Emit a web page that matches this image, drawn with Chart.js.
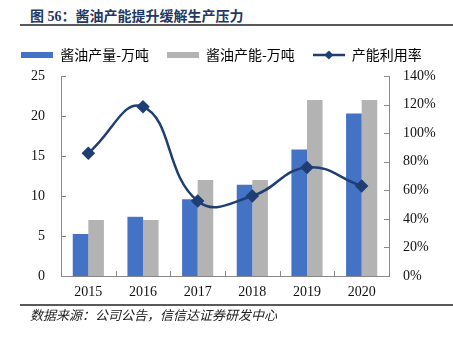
<!DOCTYPE html>
<html>
<head>
<meta charset="utf-8">
<script src="https://cdn.jsdelivr.net/npm/chart.js@4"></script>
<style>
  html, body { margin: 0; padding: 0; background: #fff; }
  #wrap { position: relative; width: 453px; height: 339px; overflow: hidden; }
  #titulo { position: absolute; left: 30px; top: 5px; font: bold 14px "Liberation Serif", "Noto Sans CJK SC"; color: #1F3864; white-space: nowrap; }
  #linea1 { position: absolute; left: 20px; top: 24px; width: 433px; height: 2px; background: #595959; }
  #linea2 { position: absolute; left: 20px; top: 304px; width: 433px; height: 2px; background: #595959; }
  #fuente { position: absolute; left: 30px; top: 305px; font: italic 13px "Noto Sans CJK SC"; color: #222; white-space: nowrap; }
  canvas { position: absolute; left: 0; top: 0; }
</style>
</head>
<body>
<div id="wrap">
  <div id="titulo">图 56：酱油产能提升缓解生产压力</div>
  <div id="linea1"></div>
  <canvas id="grafico" width="453" height="339"></canvas>
  <div id="linea2"></div>
  <div id="fuente">数据来源：公司公告，信信达证券研发中心</div>
</div>
<script>
// Datos
const anios = ["2015", "2016", "2017", "2018", "2019", "2020"];
const produccion = [5.25, 7.4, 9.6, 11.4, 15.8, 20.3];
const capacidad = [7.0, 7.0, 12.0, 12.0, 22.0, 22.0];
const utilizacion = [86, 118.5, 52.5, 56, 76, 63];
const nombres = ["酱油产量-万吨", "酱油产能-万吨", "产能利用率"];

const AZUL = "#4472C4";
const GRIS = "#B3B3B3";
const MARINO = "#1F3F74";

// Iconos de la leyenda
function iconoBarra(color) {
  const c = document.createElement("canvas");
  c.width = 32; c.height = 8;
  const g = c.getContext("2d");
  g.fillStyle = color;
  g.fillRect(0, 1, 32, 6);
  return c;
}
function iconoLinea() {
  const c = document.createElement("canvas");
  c.width = 32; c.height = 10;
  const g = c.getContext("2d");
  g.strokeStyle = MARINO; g.lineWidth = 2.5;
  g.beginPath(); g.moveTo(0, 5); g.lineTo(32, 5); g.stroke();
  g.fillStyle = MARINO;
  g.beginPath(); g.moveTo(16, 0.5); g.lineTo(20.5, 5); g.lineTo(16, 9.5); g.lineTo(11.5, 5); g.closePath(); g.fill();
  return c;
}
const iconos = [iconoBarra(AZUL), iconoBarra(GRIS), iconoLinea()];

// Un poco más de aire debajo de la leyenda
const espacioLeyenda = {
  id: "espacioLeyenda",
  beforeLayout(chart) {
    const l = chart.legend;
    if (l && !l._extra) {
      const fitOriginal = l.fit.bind(l);
      l.fit = function () { fitOriginal(); this.height += 4; };
      l._extra = true;
    }
  }
};

// Marcas de escala hacia dentro
const marcasInternas = {
  id: "marcasInternas",
  afterDraw(chart) {
    const ctx = chart.ctx;
    const area = chart.chartArea;
    const y = chart.scales.y, y1 = chart.scales.y1, x = chart.scales.x;
    ctx.save();
    ctx.strokeStyle = "#888";
    ctx.lineWidth = 1;
    ctx.beginPath();
    for (let v = 0; v <= 25; v += 5) {
      const py = Math.round(y.getPixelForValue(v)) + 0.5;
      ctx.moveTo(area.left, py); ctx.lineTo(area.left + 5, py);
    }
    for (let v = 0; v <= 140; v += 20) {
      const py = Math.round(y1.getPixelForValue(v)) + 0.5;
      ctx.moveTo(area.right, py); ctx.lineTo(area.right - 5, py);
    }
    for (let i = 1; i < anios.length; i++) {
      const px = Math.round((x.getPixelForValue(i - 1) + x.getPixelForValue(i)) / 2) + 0.5;
      ctx.moveTo(px, area.bottom); ctx.lineTo(px, area.bottom - 5);
    }
    ctx.stroke();
    ctx.restore();
  }
};

const fuenteNum = { family: "'Liberation Serif', 'Noto Sans CJK SC'", size: 14 };

new Chart(document.getElementById("grafico"), {
  type: "bar",
  data: {
    labels: anios,
    datasets: [
      {
        type: "line",
        label: nombres[2],
        data: utilizacion,
        yAxisID: "y1",
        borderColor: MARINO,
        backgroundColor: MARINO,
        borderWidth: 2.5,
        tension: 0.45,
        pointStyle: "rectRot",
        pointRadius: 5,
        pointBackgroundColor: MARINO,
        pointBorderColor: MARINO,
        order: 0
      },
      {
        label: nombres[0],
        data: produccion,
        yAxisID: "y",
        backgroundColor: AZUL,
        categoryPercentage: 0.57,
        barPercentage: 1.0,
        order: 1
      },
      {
        label: nombres[1],
        data: capacidad,
        yAxisID: "y",
        backgroundColor: GRIS,
        categoryPercentage: 0.57,
        barPercentage: 1.0,
        order: 1
      }
    ]
  },
  plugins: [espacioLeyenda, marcasInternas],
  options: {
    responsive: false,
    animation: false,
    layout: { padding: { top: 30, left: 0, right: 10, bottom: 0 } },
    plugins: {
      tooltip: { enabled: false },
      legend: {
        position: "top",
        labels: {
          usePointStyle: true,
          pointStyleWidth: 32,
          boxHeight: 10,
          padding: 18,
          color: "#222",
          font: { family: "'Noto Sans CJK SC'", size: 14 },
          sort: (a, b) => [1, 2, 0].indexOf(a.datasetIndex) - [1, 2, 0].indexOf(b.datasetIndex),
          generateLabels(chart) {
            return chart.data.datasets.map((d, i) => ({
              text: d.label,
              datasetIndex: i,
              pointStyle: iconos[i === 0 ? 2 : i - 1],
              fillStyle: "transparent",
              strokeStyle: "transparent",
              lineWidth: 0,
              hidden: false
            }));
          }
        }
      }
    },
    scales: {
      x: {
        grid: { display: false },
        border: { display: true, color: "#888", width: 1 },
        ticks: { color: "#111", font: fuenteNum, padding: 0 },
        afterFit(s) { s.height = 339 - 276; }
      },
      y: {
        position: "left",
        min: 0, max: 25,
        grid: { display: false },
        border: { display: true, color: "#888", width: 1 },
        ticks: { stepSize: 5, color: "#111", font: fuenteNum, padding: 8 },
        afterFit(s) { s.width = 61; }
      },
      y1: {
        position: "right",
        min: 0, max: 140,
        grid: { display: false },
        border: { display: true, color: "#888", width: 1 },
        ticks: { stepSize: 20, color: "#111", font: fuenteNum, padding: 6, callback: v => v + "%" },
        afterFit(s) { s.width = 453 - 389 - 10; }
      }
    }
  }
});
</script>
</body>
</html>
